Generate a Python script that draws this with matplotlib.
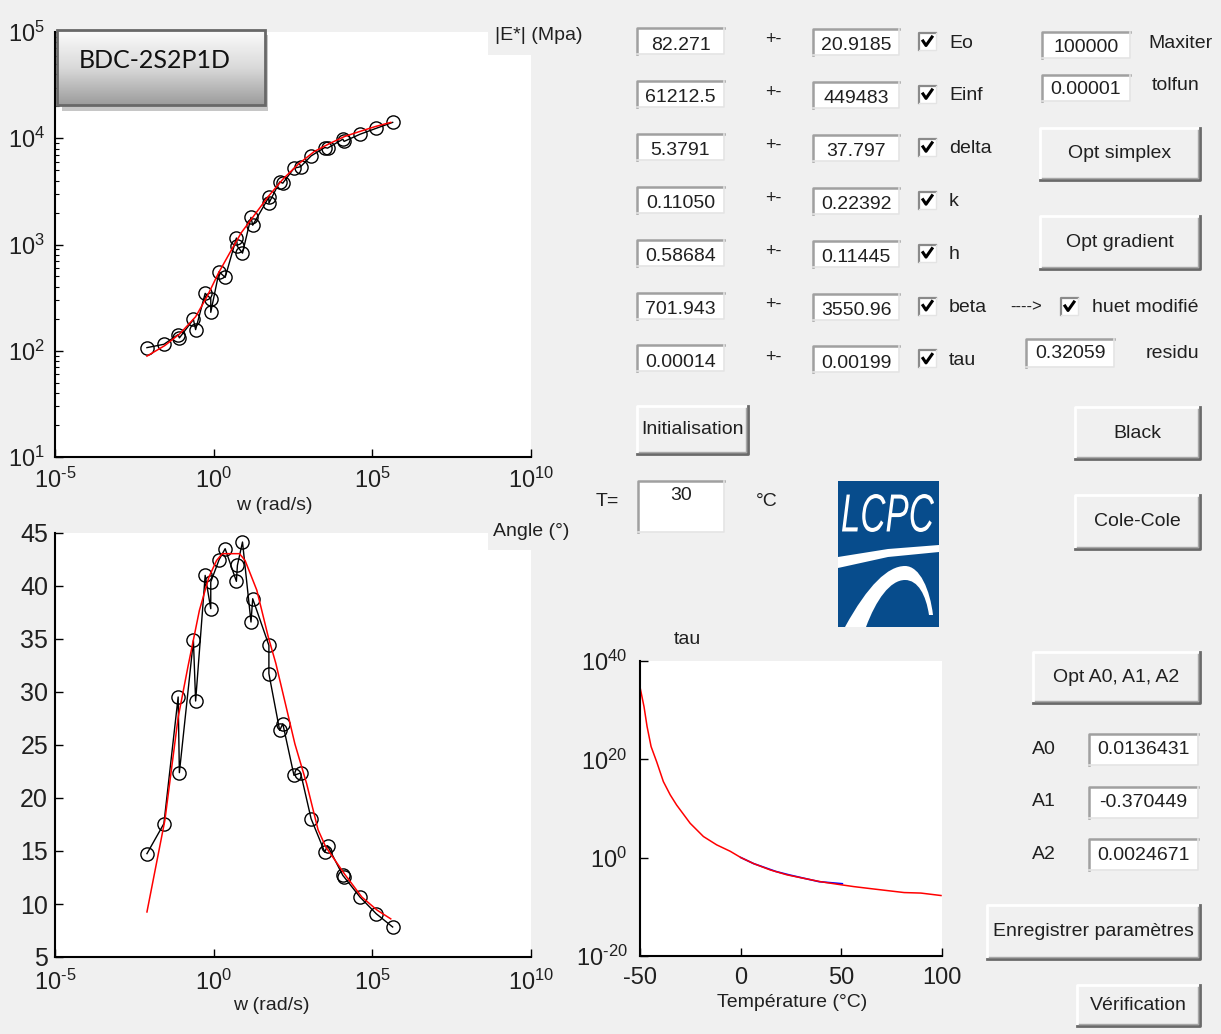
import numpy as np
import matplotlib
matplotlib.use("Agg")
import matplotlib.pyplot as plt
from matplotlib.patches import Rectangle, Polygon, PathPatch
from matplotlib.path import Path
from matplotlib.textpath import TextPath
from matplotlib.font_manager import FontProperties
from matplotlib.transforms import Affine2D
from matplotlib.ticker import FuncFormatter, LogLocator, NullLocator
from matplotlib.colors import LinearSegmentedColormap

# measured points (|E*| and phase angle vs pulsation)
w_meas = [0.0079, 0.027, 0.076, 0.083, 0.23, 0.27, 0.54, 0.81, 0.81, 1.48,
          2.3, 5.2, 5.6, 8.1, 15, 17, 55, 55, 120, 151,
          339, 550, 1175, 3160, 3890, 11750, 12900, 40700, 131800, 436500]
E_meas = [107, 115, 142, 132, 197, 158, 347, 310, 230, 555,
          490, 1150, 960, 830, 1800, 1520, 2790, 2450, 3880, 3780,
          5220, 5400, 6820, 8180, 8070, 9800, 9340, 10900, 12400, 14100]
phi_meas = [14.75, 17.58, 29.53, 22.39, 34.87, 29.15, 41.0, 37.86, 40.38, 42.48,
            43.52, 40.44, 41.95, 44.15, 36.6, 38.8, 34.4, 31.73, 26.38, 27.0,
            22.14, 22.36, 18.05, 14.9, 15.5, 12.7, 12.55, 10.66, 9.09, 7.83]

# 2S2P1D fitted curves
w_fit_E = [0.0079, 0.029, 0.087, 0.27, 0.62, 1.41, 3.2, 7.4, 17.4, 52,
           158, 479, 1480, 4470, 13500, 40700, 126000, 380000]
E_fit = [89, 112, 145, 209, 324, 537, 832, 1290, 1820, 2820,
         4170, 5750, 7500, 8910, 10400, 11600, 12900, 14100]
w_fit_phi = [0.0079, 0.029, 0.076, 0.155, 0.355, 0.71, 1.23, 1.86, 6.5, 9.8, 22.9,
             52.5, 91, 182, 363, 851, 1950, 3390, 13500, 46800, 144500, 380000]
phi_fit = [9.25, 17.9, 27.6, 32.4, 37.7, 40.85, 42.4, 43.05, 43.05, 42.4, 39.6,
           35.2, 32.7, 28.9, 25.1, 21.35, 17.0, 15.4, 12.8, 10.65, 9.4, 8.6]

# shift factor tau(T)
T_fit = [-50, -48, -46.5, -44.5, -41.7, -38.4, -35, -31.8, -25.1, -18.5, -11.9, -5.2, 0,
         6.4, 14.7, 23, 31.3, 39.6, 47.9, 56.2, 64.6, 72.9, 81.2, 89.5, 99.5]
tau_fit = [5e34, 5e30, 5e26, 4e22, 3e19, 3e15, 6e12, 5e10, 1e7, 2e4, 4e2, 20, 1.1,
           0.063, 3.2e-3, 3.2e-4, 6.3e-5, 1.3e-5, 4e-6, 1.3e-6, 5e-7, 2e-7, 8e-8, 6.3e-8, 2e-8]
T_meas = [0, 6.4, 17.4, 24, 30.5, 39, 50.5]
tau_meas = [1.1, 0.063, 1.6e-3, 3.2e-4, 7.9e-5, 1.3e-5, 5e-6]

# GUI fields
param_names = ['Eo', 'Einf', 'delta', 'k', 'h', 'beta', 'tau']
param_values = ['82.271', '61212.5', '5.3791', '0.11050', '0.58684', '701.943', '0.00014']
param_errors = ['20.9185', '449483', '37.797', '0.22392', '0.11445', '3550.96', '0.00199']
A_names = ['A0', 'A1', 'A2']
A_values = ['0.0136431', '-0.370449', '0.0024671']

W, H = 1221, 1034
GUI = ['Liberation Sans', 'DejaVu Sans']
plt.rcParams['font.family'] = GUI
plt.rcParams['axes.unicode_minus'] = False
TXT = '#202020'


def fpos(x0, y0, x1, y1):
    return [x0 / W, 1 - y1 / H, (x1 - x0) / W, (y1 - y0) / H]


def logfmt(v, p):
    e = round(np.log10(v))
    s = str(abs(e)) if e >= 0 else '\u2010' + str(abs(e))
    return r'$\mathregular{10^{%s}}$' % s


def style(ax, fs):
    ax.set_facecolor('white')
    for s in ['top', 'right']:
        ax.spines[s].set_visible(False)
    for s in ['left', 'bottom']:
        ax.spines[s].set_linewidth(1.5)
    ax.tick_params(which='major', direction='in', length=6, width=1,
                   labelsize=fs, labelcolor=TXT)
    ax.tick_params(which='minor', direction='in', length=3, width=0.8)


def edit_box(ax, x0, y0, x1, y1, txt, ty=None):
    ax.add_patch(Rectangle((x0, y0), x1 - x0, y1 - y0, fc='white', ec='none'))
    ax.plot([x0, x0, x1], [y1, y0, y0], color='#a0a0a0', lw=1.8)
    ax.plot([x0, x1, x1], [y1, y1, y0], color='#e4e4e4', lw=1.2)
    ax.text((x0 + x1) / 2, y0 + 17 if ty is None else ty, txt, ha='center', va='center',
            fontsize=14, color=TXT)


def button(ax, x0, y0, x1, y1, txt):
    ax.add_patch(Rectangle((x0, y0), x1 - x0, y1 - y0, fc='#f0f0f0', ec='none'))
    ax.plot([x0, x0, x1], [y1, y0, y0], color='white', lw=2)
    ax.plot([x0, x1, x1], [y1, y1, y0], color='#6a6a6a', lw=2)
    ax.plot([x0 + 2, x1 - 2, x1 - 2], [y1 - 2, y1 - 2, y0 + 2], color='#a8a8a8', lw=1)
    ax.text((x0 + x1) / 2, (y0 + y1) / 2, txt, ha='center', va='center',
            fontsize=14, color=TXT)


def checkbox(ax, x0, y0, s=17):
    ax.add_patch(Rectangle((x0, y0), s, s, fc='white', ec='none'))
    ax.plot([x0, x0, x0 + s], [y0 + s, y0, y0], color='#8a8a8a', lw=1.6)
    ax.plot([x0, x0 + s, x0 + s], [y0 + s, y0 + s, y0], color='#e4e4e4', lw=1)
    ax.plot([x0 + 4, x0 + 7, x0 + 13], [y0 + 8, y0 + 12.5, y0 + 4], color='black', lw=2.2)


def label(ax, x, y, txt, fs=14):
    ax.text(x, y, txt, ha='left', va='center', fontsize=fs, color=TXT)


fig = plt.figure(figsize=(W / 100, H / 100), dpi=100, facecolor='#f0f0f0')

bg = fig.add_axes([0, 0, 1, 1], zorder=-5)
bg.set_xlim(0, W)
bg.set_ylim(H, 0)
bg.axis('off')

# |E*| plot
ax1 = fig.add_axes(fpos(55, 32, 531, 457))
ax1.set_xscale('log')
ax1.set_yscale('log')
ax1.plot(w_meas, E_meas, 'k-o', mfc='none', ms=9.5, mew=1, lw=1)
ax1.plot(w_fit_E, E_fit, 'r-', lw=1.1)
ax1.set_xlim(1e-5, 1e10)
ax1.set_ylim(1e1, 1e5)
style(ax1, 17)
ax1.set_xticks([1e-5, 1e0, 1e5, 1e10])
ax1.xaxis.set_minor_locator(NullLocator())
ax1.set_yticks([1e1, 1e2, 1e3, 1e4, 1e5])
ax1.yaxis.set_minor_locator(LogLocator(subs=range(2, 10), numticks=20))
ax1.xaxis.set_major_formatter(FuncFormatter(logfmt))
ax1.yaxis.set_major_formatter(FuncFormatter(logfmt))
ax1.tick_params(axis='x', pad=8)
ax1.tick_params(axis='y', pad=7)
ax1.set_xlabel('w (rad/s)', fontsize=14, color=TXT)
ax1.xaxis.set_label_coords(0.46, -0.094)

# phase angle plot
ax2 = fig.add_axes(fpos(55, 533, 531, 957))
ax2.set_xscale('log')
ax2.plot(w_meas, phi_meas, 'k-o', mfc='none', ms=9.5, mew=1, lw=1)
ax2.plot(w_fit_phi, phi_fit, 'r-', lw=1.1)
ax2.set_xlim(1e-5, 1e10)
ax2.set_ylim(5, 45)
style(ax2, 18)
ax2.set_xticks([1e-5, 1e0, 1e5, 1e10])
ax2.xaxis.set_minor_locator(NullLocator())
ax2.xaxis.set_major_formatter(FuncFormatter(logfmt))
ax2.tick_params(axis='x', labelsize=17, pad=9)
ax2.set_yticks(range(5, 50, 5))
ax2.tick_params(axis='y', pad=5)
ax2.set_xlabel('w (rad/s)', fontsize=14, color=TXT)
ax2.xaxis.set_label_coords(0.455, -0.094)

# tau plot
ax3 = fig.add_axes(fpos(640, 661, 942, 956))
ax3.set_yscale('log')
ax3.plot(T_meas, tau_meas, color='blue', lw=1.2)
ax3.plot(T_fit, tau_fit, 'r-', lw=1.1)
ax3.set_xlim(-50, 100)
ax3.set_ylim(1e-20, 1e40)
style(ax3, 17)
ax3.set_xticks([-50, 0, 50, 100])
ax3.set_yticks([1e-20, 1e0, 1e20, 1e40])
ax3.yaxis.set_minor_locator(NullLocator())
ax3.yaxis.set_major_formatter(FuncFormatter(logfmt))
ax3.tick_params(axis='y', pad=9)
ax3.tick_params(axis='x', pad=8)
ax3.set_xlabel('Température (°C)', fontsize=14, color=TXT)
ax3.xaxis.set_label_coords(0.503, -0.13)
bg.text(687, 640, 'tau', ha='center', va='center', fontsize=14, color=TXT)

# parameter rows
for i, name in enumerate(param_names):
    top = 28 + 52.9 * i
    edit_box(bg, 637, top, 724, top + 26, param_values[i])
    bg.text(773, top + 12, '+-', ha='center', va='center', fontsize=13, color=TXT)
    edit_box(bg, 813, top + 1, 899, top + 27, param_errors[i])
    checkbox(bg, 919, top + 5)
    label(bg, 949, top + 15, name)

edit_box(bg, 1042, 32, 1130, 58, '100000', ty=48)
label(bg, 1148, 44, 'Maxiter')
edit_box(bg, 1042, 75, 1130, 101, '0.00001', ty=90)
label(bg, 1152, 86, 'tolfun')
button(bg, 1040, 128, 1200, 180, 'Opt simplex')
button(bg, 1040, 216, 1200, 269, 'Opt gradient')
label(bg, 1010, 307, '---->', fs=12)
checkbox(bg, 1061, 298)
label(bg, 1092, 307, 'huet modifié')
edit_box(bg, 1026, 339, 1114, 367, '0.32059', ty=354)
label(bg, 1146, 353, 'residu')

button(bg, 637, 406, 748, 454, 'Initialisation')
button(bg, 1075, 407, 1200, 459, 'Black')
button(bg, 1075, 495, 1200, 549, 'Cole-Cole')
button(bg, 1033, 652, 1200, 703, 'Opt A0, A1, A2')
button(bg, 987, 905, 1200, 959, 'Enregistrer paramètres')
button(bg, 1077, 985, 1200, 1026, 'Vérification')

label(bg, 596, 502, 'T=')
edit_box(bg, 638, 481, 724, 532, '30', ty=496)
label(bg, 756, 501, '°C')

for i, name in enumerate(A_names):
    top = 734 + 52.7 * i
    label(bg, 1032, top + 15, name)
    edit_box(bg, 1089, top, 1198, top + 31, A_values[i], ty=top + 16)

# LCPC logo
bg.add_patch(Rectangle((838, 481), 101, 146, fc='#074c8c', ec='none'))
tp = TextPath((0, 0), 'LCPC', size=1, prop=FontProperties(family='Liberation Sans', style='italic'))
ext = tp.get_extents()
tt = Affine2D().translate(-ext.x0, -ext.y0).scale(92 / ext.width, -38 / ext.height).translate(842, 532)
bg.add_patch(PathPatch(tp, transform=tt + bg.transData, fc='white', ec='none'))
bg.add_patch(Polygon([(838, 557), (888, 549), (939, 545), (939, 552), (888, 557), (838, 568)],
                     closed=True, fc='white', ec='none'))
arc = Path([(845, 627), (868, 585), (888, 566), (905, 566), (920, 566), (930, 590), (933, 615),
            (929, 615), (926, 595), (918, 580), (905, 580), (890, 580), (876, 600), (866, 627),
            (845, 627)],
           [Path.MOVETO, Path.CURVE4, Path.CURVE4, Path.CURVE4, Path.CURVE4, Path.CURVE4,
            Path.CURVE4, Path.LINETO, Path.CURVE4, Path.CURVE4, Path.CURVE4, Path.CURVE4,
            Path.CURVE4, Path.CURVE4, Path.CLOSEPOLY])
bg.add_patch(PathPatch(arc, fc='white', ec='none'))

# overlay: title button and axis labels
fg = fig.add_axes([0, 0, 1, 1], zorder=5)
fg.patch.set_visible(False)
fg.axis('off')
fg.add_patch(Rectangle((62, 35), 206, 76, fc='#c6c6c6', ec='none', zorder=1))
grad = np.linspace(0, 1, 100).reshape(-1, 1)
cmap = LinearSegmentedColormap.from_list('btn', ['#fbfbfb', '#dadada', '#9c9c9c'])
fg.imshow(grad, cmap=cmap, extent=(57, 265, 105, 30), aspect='auto', zorder=2)
fg.add_patch(Rectangle((57, 30), 208, 75, fill=False, ec='#686868', lw=2, zorder=3))
fg.text(79, 60, 'BDC-2S2P1D', ha='left', va='center', fontsize=18,
        family=['Lato', 'DejaVu Sans'], color='#111111', zorder=4)
fg.add_patch(Rectangle((488, 24), 48, 31, fc='#f0f0f0', ec='none'))
fg.text(495, 36, '|E*| (Mpa)', ha='left', va='center', fontsize=14, color=TXT)
fg.add_patch(Rectangle((488, 528), 48, 22, fc='#f0f0f0', ec='none'))
fg.text(493, 531, 'Angle (°)', ha='left', va='center', fontsize=14, color=TXT)
fg.set_xlim(0, W)
fg.set_ylim(H, 0)

fig.savefig('out.png', dpi=100, facecolor=fig.get_facecolor())
